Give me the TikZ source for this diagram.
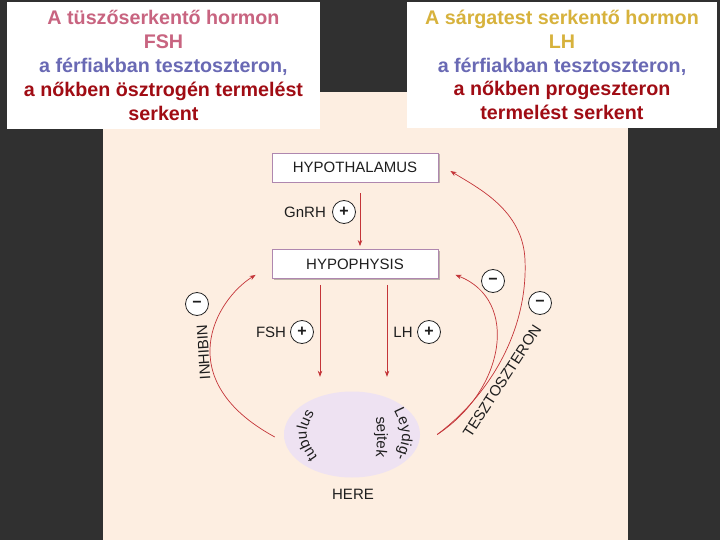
\documentclass[tikz,border=0pt]{standalone}
\usepackage{fontspec}
\setmainfont{Liberation Sans}
\usetikzlibrary{arrows.meta,shapes.geometric,decorations.text,shadows}
\definecolor{darkbg}{RGB}{48,48,48}
\definecolor{cream}{RGB}{253,238,225}
\definecolor{boxborder}{RGB}{175,135,175}
\definecolor{arrowred}{RGB}{196,52,56}
\definecolor{rose}{RGB}{200,100,128}
\definecolor{goldt}{RGB}{215,178,60}
\definecolor{blut}{RGB}{105,105,180}
\definecolor{dred}{RGB}{160,12,20}
\definecolor{txt}{RGB}{30,30,30}
\definecolor{ellin}{RGB}{238,226,242}
\definecolor{ellout}{RGB}{205,178,220}
\newcommand\lblfont{\fontsize{15}{18}\selectfont}
\newcommand\topfont{\bfseries\fontsize{19.7}{23.8}\selectfont}
\pgfdeclareradialshading{ellshade}{\pgfpoint{0bp}{0bp}}{color(0bp)=(ellin); color(30bp)=(ellin); color(50bp)=(ellout); color(100bp)=(ellout)}
\tikzset{
  box/.style={draw=boxborder, line width=0.8pt, fill=white, minimum width=166pt, minimum height=29pt, inner sep=0, font=\lblfont, text=txt,
    drop shadow={shadow xshift=1.5pt, shadow yshift=-1.5pt, fill=black, opacity=0.25}},
  sign/.style={circle, draw=black!85, line width=0.8pt, fill=white, minimum size=23pt, inner sep=0, text=txt, font=\bfseries\fontsize{16}{16}\selectfont},
  lbl/.style={font=\lblfont, text=txt, inner sep=0},
  arr/.style={draw=arrowred, line width=0.7pt, -{Stealth[length=6pt,width=4.5pt]}},
  topbox/.style={fill=white, inner sep=0, align=center, font=\topfont},
  curvtext/.style={decorate, decoration={text along path, text align=center, text color=txt, text={|\lblfont|#1}}}
}
\begin{document}
\begin{tikzpicture}[x=1pt,y=-1pt]
\useasboundingbox (0,0) rectangle (720,540);
\fill[darkbg] (0,0) rectangle (720,540);
\fill[cream] (103,92) rectangle (628,540);

\node[topbox, minimum width=313pt, minimum height=127pt] (boxL) at (163.5,65.5) {%
\textcolor{rose}{A tüszőserkentő hormon}\\
\textcolor{rose}{FSH}\\
\textcolor{blut}{a férfiakban tesztoszteron,}\\
\textcolor{dred}{a nőkben ösztrogén termelést}\\
\textcolor{dred}{serkent}};
\node[topbox, minimum width=310pt, minimum height=126pt] (boxR) at (562,65) {%
\textcolor{goldt}{A sárgatest serkentő hormon}\\
\textcolor{goldt}{LH}\\
\textcolor{blut}{a férfiakban tesztoszteron,}\\
\textcolor{dred}{a nőkben progeszteron}\\
\textcolor{dred}{termelést serkent}};

\node[box] (hyp) at (355,167.5) {HYPOTHALAMUS};
\node[box] (hypo) at (355,264) {HYPOPHYSIS};
\node[ellipse, minimum width=136pt, minimum height=86pt, inner sep=0, shading=ellshade] (ell) at (352,434.5) {};
\node[lbl] (here) at (353,494) {HERE};

% stimulating arrows
\draw[arr] ([xshift=5pt,yshift=-11pt]hyp.south) -- ([xshift=5pt,yshift=3pt]hypo.north);
\draw[arr] ([xshift=-35pt,yshift=-6pt]hypo.south) -- ([xshift=-32pt,yshift=14.5pt]ell.north);
\draw[arr] ([xshift=32pt,yshift=-6pt]hypo.south) -- ([xshift=35pt,yshift=14.5pt]ell.north);

\node[lbl] (gnrh) at (305,212) {GnRH};
\node[sign] (gplus) at (344,212) {+};
\node[lbl] (fsh) at (271,332) {FSH};
\node[sign] (fplus) at (302,332) {+};
\node[lbl] (lh) at (403,332) {LH};
\node[sign] (lplus) at (429,332) {+};

% feedback curves
\coordinate (inS) at ([xshift=-9pt,yshift=-2.5pt]ell.west);
\coordinate (inE) at ([xshift=-16pt,yshift=4pt]hypo.south west);
\draw[arr] (inS) .. controls (170,380) and (215,300) .. (inE);

\coordinate (tS) at ([xshift=17pt]ell.east);
\coordinate (tE1) at ([xshift=17pt,yshift=4pt]hypo.south east);
\coordinate (tE2) at ([xshift=12pt,yshift=-3.5pt]hyp.east);
\draw[arr] (tS) .. controls (505,390) and (520,300) .. (tE1);
\draw[arr] (tS) .. controls (490,395) and (528,330) .. (525,260) .. controls (523,210) and (478,188) .. (tE2);

\node[sign] (m1) at (197,304) {−};
\node[sign] (m2) at (493,281) {−};
\node[sign] (m3) at (540,303) {−};
\node[lbl, rotate=93.5] (inh) at (203.5,352) {INHIBIN};
\node[lbl, rotate=57] (tesz) at (502,381) {TESZTOSZTERON};

% curved texts inside the testis
\path[curvtext={tubulus}] (323,465) .. controls (302,435) .. (319,405);
\path[curvtext={Leydig-}] (390,403) .. controls (405.5,434) .. (393,466);
\path[curvtext={sejtek}] (375,410) .. controls (378,437) .. (375,464);
\end{tikzpicture}
\end{document}
